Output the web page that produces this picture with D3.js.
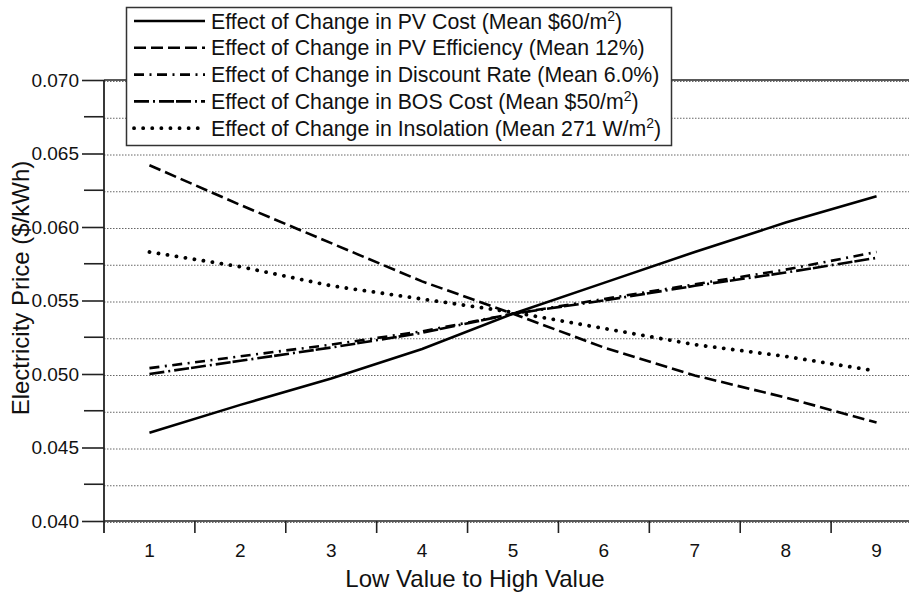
<!DOCTYPE html>
<html>
<head>
<meta charset="utf-8">
<script src="https://cdn.jsdelivr.net/npm/d3@7"></script>
<style>
  body { margin: 0; background: #fff; }
  svg { display: block; font-family: "Liberation Sans", Arial, Helvetica, sans-serif; }
</style>
</head>
<body>
<svg id="chart" width="909" height="595"></svg>
<script>
var categories = [1, 2, 3, 4, 5, 6, 7, 8, 9];
var pvCost     = [0.0460, 0.0479, 0.0497, 0.0517, 0.0541, 0.0562, 0.0583, 0.0603, 0.0621];
var pvEff      = [0.0642, 0.0615, 0.0589, 0.0563, 0.0541, 0.0518, 0.0499, 0.0484, 0.0467];
var discount   = [0.0504, 0.0512, 0.0520, 0.0529, 0.0541, 0.0551, 0.0561, 0.0571, 0.0583];
var bosCost    = [0.0500, 0.0509, 0.0518, 0.0528, 0.0541, 0.0550, 0.0560, 0.0569, 0.0579];
var insolation = [0.0583, 0.0573, 0.0560, 0.0551, 0.0542, 0.0531, 0.0520, 0.0512, 0.0502];
var yTicks = [0.040, 0.045, 0.050, 0.055, 0.060, 0.065, 0.070];
var yMinor = [0.0425, 0.0475, 0.0525, 0.0575, 0.0625, 0.0675];

var legendNames = [
    ["Effect of Change in PV Cost (Mean $60/m", "2", ")"],
    ["Effect of Change in PV Efficiency (Mean 12%)", "", ""],
    ["Effect of Change in Discount Rate (Mean 6.0%)", "", ""],
    ["Effect of Change in BOS Cost (Mean $50/m", "2", ")"],
    ["Effect of Change in Insolation (Mean 271 W/m", "2", ")"]
];

var series = [
    { values: pvCost,     dash: null,                 width: 2.6, cap: "butt" },
    { values: pvEff,      dash: "12,5",               width: 2.6, cap: "butt" },
    { values: discount,   dash: "10,5.5,2,5.5",       width: 2.6, cap: "butt" },
    { values: bosCost,    dash: "15,4,2,4,15,2",      width: 2.6, cap: "butt" },
    { values: insolation, dash: "0.1,9",              width: 3.8, cap: "round" }
];

var svg = d3.select("#chart");
var plotLeft = 104, plotRight = 922, plotTop = 80, plotBottom = 521;

var x = d3.scaleBand().domain(categories).range([plotLeft, plotRight]);
var y = d3.scaleLinear().domain([0.040, 0.070]).range([plotBottom, plotTop]);

// dotted grid
var grid = svg.append("g");
grid.selectAll("line")
    .data(yTicks.concat(yMinor))
    .enter().append("line")
    .attr("x1", plotLeft).attr("x2", 909)
    .attr("y1", function(d) { return y(d) + 1.5; })
    .attr("y2", function(d) { return y(d) + 1.5; })
    .attr("stroke", "#666")
    .attr("stroke-width", 1)
    .attr("stroke-dasharray", "1.5,1.5");

// solid frame lines top and bottom
svg.append("line").attr("x1", plotLeft).attr("x2", 909).attr("y1", y(0.070)).attr("y2", y(0.070))
    .attr("stroke", "#222").attr("stroke-width", 1.6);
svg.append("line").attr("x1", plotLeft).attr("x2", 909).attr("y1", y(0.040)).attr("y2", y(0.040))
    .attr("stroke", "#222").attr("stroke-width", 1.6);

// y axis
var yAxis = d3.axisLeft(y).tickValues(yTicks).tickSize(22).tickPadding(3)
    .tickFormat(d3.format(".3f"));
var gy = svg.append("g").attr("transform", "translate(" + plotLeft + ",0)").call(yAxis);
gy.select(".domain").remove();
gy.selectAll(".tick line").attr("stroke", "#222").attr("stroke-width", 1.6);
gy.selectAll(".tick text").attr("font-size", "19px").attr("fill", "#111")
    .attr("font-family", "Liberation Sans, Arial, sans-serif");
svg.append("g").selectAll("line")
    .data(yMinor)
    .enter().append("line")
    .attr("x1", plotLeft - 20).attr("x2", plotLeft)
    .attr("y1", function(d) { return y(d); })
    .attr("y2", function(d) { return y(d); })
    .attr("stroke", "#222").attr("stroke-width", 1.6);
svg.append("line").attr("x1", plotLeft).attr("x2", plotLeft).attr("y1", plotTop).attr("y2", plotBottom + 12)
    .attr("stroke", "#222").attr("stroke-width", 1.8);

// x axis ticks between categories
var bounds = categories.slice(1).map(function(c) { return x(c); });
svg.append("g").selectAll("line")
    .data(bounds)
    .enter().append("line")
    .attr("x1", function(d) { return d; }).attr("x2", function(d) { return d; })
    .attr("y1", plotBottom).attr("y2", plotBottom + 12)
    .attr("stroke", "#222").attr("stroke-width", 1.6);
svg.append("g").selectAll("text")
    .data(categories)
    .enter().append("text")
    .attr("x", function(d) { return x(d) + x.bandwidth() / 2; })
    .attr("y", 557)
    .attr("text-anchor", "middle")
    .attr("font-size", "19px")
    .attr("fill", "#111")
    .text(function(d) { return d; });

svg.append("text")
    .attr("x", 475).attr("y", 587)
    .attr("text-anchor", "middle")
    .attr("font-size", "24px")
    .attr("fill", "#111")
    .text("Low Value to High Value");

svg.append("text")
    .attr("transform", "translate(29,288) rotate(-90)")
    .attr("text-anchor", "middle")
    .attr("font-size", "24px")
    .attr("fill", "#111")
    .text("Electricity Price ($/kWh)");

// lines
var line = d3.line()
    .x(function(d, i) { return x(categories[i]) + x.bandwidth() / 2; })
    .y(function(d) { return y(d); });

series.forEach(function(s) {
    svg.append("path")
        .datum(s.values)
        .attr("d", line)
        .attr("fill", "none")
        .attr("stroke", "#000")
        .attr("stroke-width", s.width)
        .attr("stroke-linecap", s.cap)
        .attr("stroke-dasharray", s.dash);
});

// legend
var legend = svg.append("g");
legend.append("rect")
    .attr("x", 126.5).attr("y", 7.5).attr("width", 545).attr("height", 138)
    .attr("fill", "#fff").attr("stroke", "#333").attr("stroke-width", 1.5);

series.forEach(function(s, i) {
    var cy = 21 + i * 26.8;
    legend.append("line")
        .attr("x1", 134).attr("x2", 205)
        .attr("y1", cy).attr("y2", cy)
        .attr("stroke", "#000")
        .attr("stroke-width", s.width)
        .attr("stroke-linecap", s.cap)
        .attr("stroke-dasharray", s.dash);
    var t = legend.append("text")
        .attr("x", 211).attr("y", cy + 7.5)
        .attr("font-size", "21.3px")
        .attr("fill", "#111");
    t.append("tspan").text(legendNames[i][0]);
    if (legendNames[i][1]) {
        t.append("tspan").attr("dy", -8).attr("font-size", "14px").text(legendNames[i][1]);
        t.append("tspan").attr("dy", 8).text(legendNames[i][2]);
    }
});
</script>
</body>
</html>
